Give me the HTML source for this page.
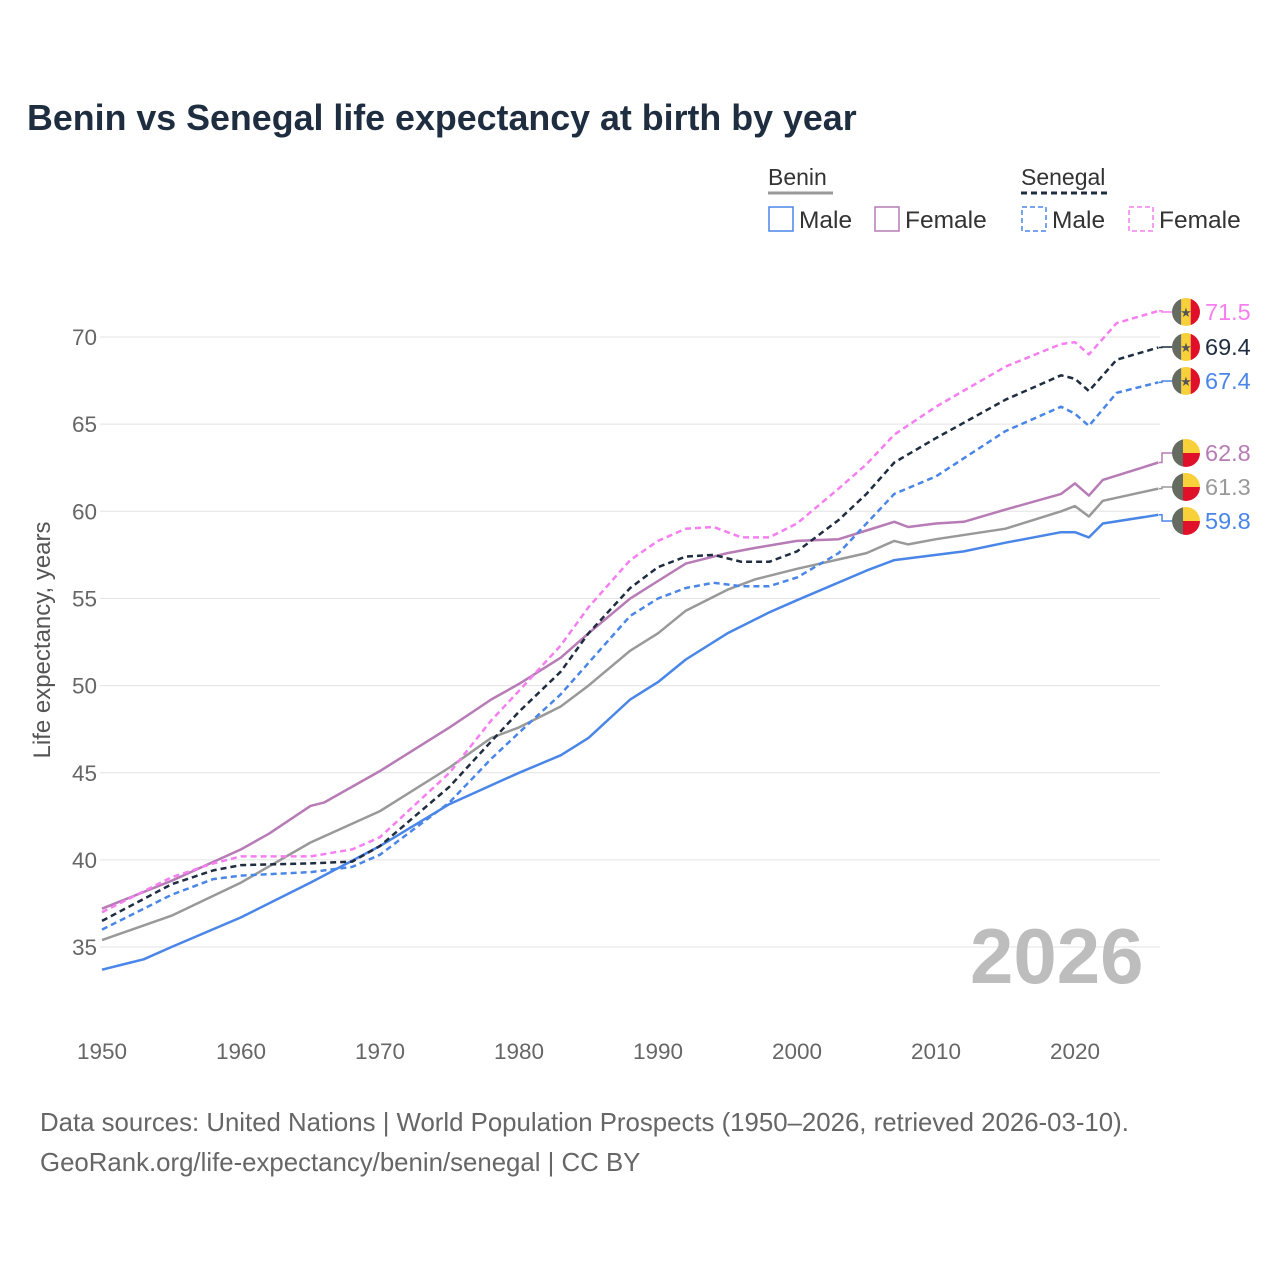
<!DOCTYPE html>
<html><head><meta charset="utf-8"><style>
body{margin:0;background:#fff;}
svg text{font-family:"Liberation Sans",sans-serif;}
</style></head><body>
<svg id="chart" width="1280" height="1280" viewBox="0 0 1280 1280">
<rect width="1280" height="1280" fill="#fff"/>
<text x="27" y="130" font-size="35.8" font-weight="bold" fill="#1f2d40">Benin vs Senegal life expectancy at birth by year</text>
<g id="legend">
 <text x="768" y="185" font-size="23" fill="#333">Benin</text>
 <line x1="768" y1="193" x2="833" y2="193" stroke="#999" stroke-width="3"/>
 <text x="1021" y="185" font-size="23" fill="#333">Senegal</text>
 <line x1="1021" y1="193" x2="1110" y2="193" stroke="#1f2d40" stroke-width="3" stroke-dasharray="6,4"/>
 <g><rect x="769" y="207" width="24" height="24" fill="none" stroke="#4a86e8" stroke-width="1.5"/><text x="799" y="228" font-size="24.5" fill="#333">Male</text></g>
 <g><rect x="875" y="207" width="24" height="24" fill="none" stroke="#b77bb5" stroke-width="1.5"/><text x="905" y="228" font-size="24.5" fill="#333">Female</text></g>
 <g><rect x="1022" y="207" width="24" height="24" fill="none" stroke="#4a86e8" stroke-width="1.5" stroke-dasharray="5,3"/><text x="1052" y="228" font-size="24.5" fill="#333">Male</text></g>
 <g><rect x="1129" y="207" width="24" height="24" fill="none" stroke="#f57ef0" stroke-width="1.5" stroke-dasharray="5,3"/><text x="1159" y="228" font-size="24.5" fill="#333">Female</text></g>
</g>
<g id="grid"></g>
<g id="xaxis"></g>
<text x="970" y="983" font-size="78" font-weight="bold" fill="#bdbdbd">2026</text>
<g id="series"></g>
<g id="ends"></g>
<text transform="translate(50,640) rotate(-90)" text-anchor="middle" font-size="24" fill="#555">Life expectancy, years</text>
<text x="40" y="1131" font-size="25.8" fill="#666">Data sources: United Nations | World Population Prospects (1950–2026, retrieved 2026-03-10).</text>
<text x="40" y="1171" font-size="25.8" fill="#666">GeoRank.org/life-expectancy/benin/senegal | CC BY</text>
</svg>
<script>
const yTicks=[35,40,45,50,55,60,65,70];
const xTicks=[1950,1960,1970,1980,1990,2000,2010,2020];
const beninMaleYears=[1950,1953,1955,1960,1965,1970,1975,1980,1983,1985,1988,1990,1992,1995,1998,2000,2005,2007,2010,2012,2015,2019,2020,2021,2022,2026];
const beninMale=[33.7,34.3,35.0,36.7,38.7,40.8,43.2,45.0,46.0,47.0,49.2,50.2,51.5,53.0,54.2,54.9,56.6,57.2,57.5,57.7,58.2,58.8,58.8,58.5,59.3,59.8];
const beninTotalYears=[1950,1955,1960,1965,1970,1975,1978,1980,1983,1985,1988,1990,1992,1995,1997,2000,2005,2007,2008,2010,2015,2019,2020,2021,2022,2026];
const beninTotal=[35.4,36.8,38.7,41.0,42.8,45.3,47.0,47.6,48.8,50.0,52.0,53.0,54.3,55.5,56.1,56.7,57.6,58.3,58.1,58.4,59.0,60.0,60.3,59.7,60.6,61.3];
const beninFemaleYears=[1950,1955,1960,1962,1965,1966,1970,1975,1978,1980,1983,1985,1988,1990,1992,1995,1997,2000,2003,2005,2007,2008,2010,2012,2015,2019,2020,2021,2022,2026];
const beninFemale=[37.2,38.8,40.6,41.5,43.1,43.3,45.1,47.6,49.2,50.1,51.6,53.0,55.0,56.0,57.0,57.6,57.9,58.3,58.4,58.9,59.4,59.1,59.3,59.4,60.1,61.0,61.6,60.9,61.8,62.8];
const senYears=[1950,1955,1958,1960,1965,1968,1970,1975,1978,1980,1983,1985,1988,1990,1992,1994,1996,1998,2000,2003,2005,2007,2010,2015,2019,2020,2021,2023,2026];
const senTotal=[36.5,38.6,39.4,39.7,39.8,39.9,40.8,44.2,46.8,48.5,50.8,53.0,55.6,56.8,57.4,57.5,57.1,57.1,57.7,59.5,61.0,62.8,64.2,66.4,67.8,67.6,66.9,68.7,69.4];
const senMale=[36.0,38.0,38.9,39.1,39.3,39.6,40.3,43.3,45.8,47.3,49.5,51.3,54.0,55.0,55.6,55.9,55.7,55.7,56.2,57.6,59.3,61.0,62.0,64.6,66.0,65.6,64.9,66.8,67.4];
const senFemale=[37.0,39.0,39.8,40.2,40.2,40.6,41.3,45.0,48.0,49.7,52.3,54.5,57.2,58.3,59.0,59.1,58.5,58.5,59.3,61.3,62.7,64.4,66.0,68.3,69.6,69.7,69.0,70.8,71.5];
const endLabels=["71.5","69.4","67.4","62.8","61.3","59.8"];

const NS="http://www.w3.org/2000/svg";
const X=yr=>102+(yr-1950)*13.9;
const Y=v=>337+(70-v)*17.43;
function mk(tag,attrs,parent){const e=document.createElementNS(NS,tag);for(const k in attrs)e.setAttribute(k,attrs[k]);parent.appendChild(e);return e;}
const grid=document.getElementById('grid');
yTicks.forEach(t=>{
 const l=mk('line',{x1:100,x2:1160,y1:Y(t),y2:Y(t),stroke:'#e3e3e3','stroke-width':1},grid);
 
 
 const tx=mk('text',{x:97,y:Y(t)+8,'text-anchor':'end','font-size':22.5,fill:'#666'},grid);
 tx.textContent=t;
 
 
});
const xa=document.getElementById('xaxis');
xTicks.forEach(t=>{
 const tx=mk('text',{x:X(t),y:1059,'text-anchor':'middle','font-size':22.5,fill:'#666'},xa);
 tx.textContent=t;
 
 
});
const series=[
 {name:'benin-male',yrs:beninMaleYears,v:beninMale,c:'#4a86e8',d:null,lab:endLabels[5],flag:'benin'},
 {name:'benin-total',yrs:beninTotalYears,v:beninTotal,c:'#999999',d:null,lab:endLabels[4],flag:'benin'},
 {name:'benin-female',yrs:beninFemaleYears,v:beninFemale,c:'#b77bb5',d:null,lab:endLabels[3],flag:'benin'},
 {name:'senegal-male',yrs:senYears,v:senMale,c:'#4a86e8',d:'6,4',lab:endLabels[2],flag:'senegal'},
 {name:'senegal-total',yrs:senYears,v:senTotal,c:'#1f2d40',d:'6,4',lab:endLabels[1],flag:'senegal'},
 {name:'senegal-female',yrs:senYears,v:senFemale,c:'#f57ef0',d:'6,4',lab:endLabels[0],flag:'senegal'}
];
const sg=document.getElementById('series'), eg=document.getElementById('ends');
const labelY={'senegal-female':312,'senegal-total':347,'senegal-male':381,'benin-female':453,'benin-total':487,'benin-male':521};
series.forEach(s=>{
 const pts=s.yrs.map((yr,i)=>X(yr).toFixed(1)+','+Y(s.v[i]).toFixed(1));
 const a={points:pts.join(' '),fill:'none',stroke:s.c,'stroke-width':2.5,'stroke-linejoin':'round'};
 if(s.d)a['stroke-dasharray']=s.d;
 const p=mk('polyline',a,sg);
 
 
 const ly=labelY[s.name], ey=Y(s.v[s.v.length-1]);
 mk('polyline',{points:`1159,${ey} 1162,${ey} 1162,${ly} 1172,${ly}`,fill:'none',stroke:s.c,'stroke-width':1.5},eg);
 const g=mk('g',{},eg);
 
 
 const cx=1186,r=14;
 const id='cp'+s.name;
 const cp=mk('clipPath',{id:id},g); mk('circle',{cx:cx,cy:ly,r:r},cp);
 const fg=mk('g',{'clip-path':`url(#${id})`},g);
 if(s.flag==='senegal'){
  mk('rect',{x:cx-r,y:ly-r,width:9.3,height:28,fill:'#666b62'},fg);
  mk('rect',{x:cx-r+9.3,y:ly-r,width:9.4,height:28,fill:'#f8d03a'},fg);
  mk('rect',{x:cx-r+18.7,y:ly-r,width:9.3,height:28,fill:'#e0102a'},fg);
  const st=mk('text',{x:cx,y:ly+5,'text-anchor':'middle','font-size':13,fill:'#555'},fg); st.textContent='★';
 } else {
  mk('rect',{x:cx-r,y:ly-r,width:11,height:28,fill:'#666b62'},fg);
  mk('rect',{x:cx-r+11,y:ly-r,width:17,height:14,fill:'#f8d03a'},fg);
  mk('rect',{x:cx-r+11,y:ly,width:17,height:14,fill:'#e0102a'},fg);
 }
 const t=mk('text',{x:1205,y:ly+8,'font-size':23.5,fill:s.c},eg);
 t.textContent=s.lab;
 
 
});
</script>
</body></html>
